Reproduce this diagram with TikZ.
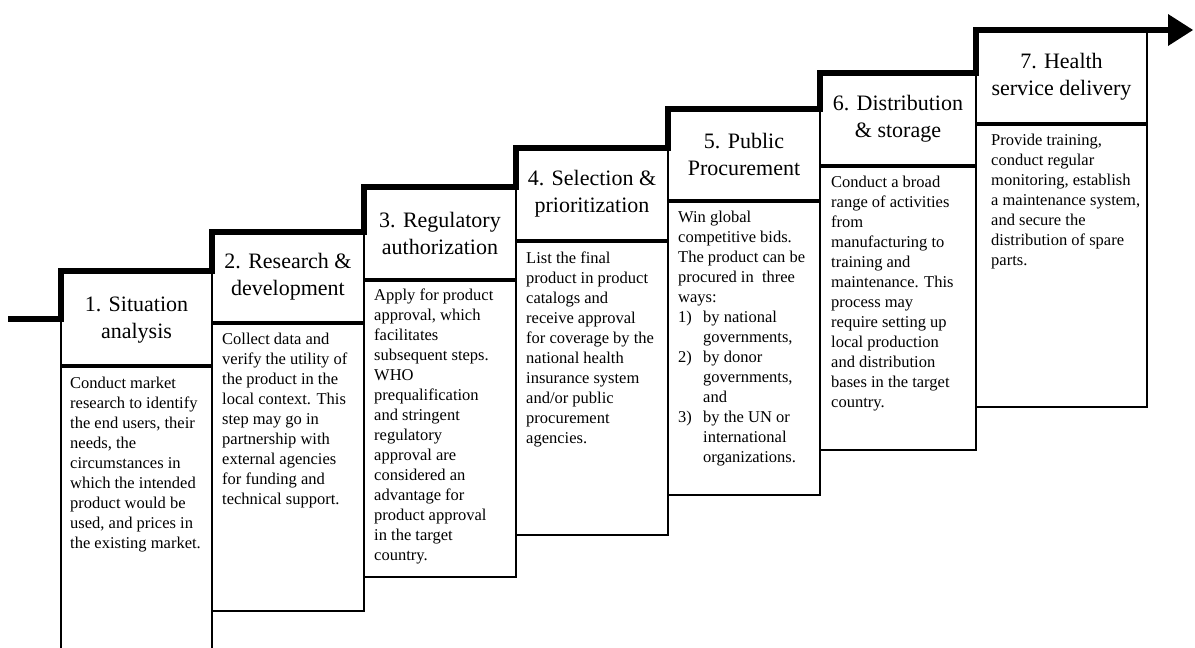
\documentclass[tikz,border=0pt]{standalone}
\usepackage{fontspec}
\setmainfont{Liberation Serif}
\begin{document}
\begin{tikzpicture}[x=1pt,y=-1pt,
  box/.style={draw=black,line width=1.6pt},
  stair/.style={line width=5.5pt,line join=miter},
  headtxt/.style={align=center,inner sep=0pt,font=\fontsize{22}{27}\selectfont},
  bodytxt/.style={align=left,inner sep=0pt,anchor=north west,font=\fontsize{16.5}{20}\selectfont}]
\useasboundingbox (0,0) rectangle (1195,648);
% column boxes: heading and body
\draw[box] (61,271) rectangle (212,365);
\draw[box] (61,648) -- (61,367) -- (212,367) -- (212,648);
\draw[box] (212,232) rectangle (364,322);
\draw[box] (212,324) rectangle (364,611);
\draw[box] (364,187) rectangle (516,279);
\draw[box] (364,281) rectangle (516,577);
\draw[box] (516,148) rectangle (668,240);
\draw[box] (516,242) rectangle (668,535);
\draw[box] (668,109) rectangle (820,200);
\draw[box] (668,202) rectangle (820,495);
\draw[box] (820,73) rectangle (976,165);
\draw[box] (820,167) rectangle (976,450);
\draw[box] (976,30) rectangle (1147,123);
\draw[box] (976,125) rectangle (1147,407);
% stair arrow
\draw[stair] (8,319) -- (61,319) -- (61,271) -- (212,271) -- (212,232) -- (364,232) -- (364,187) -- (516,187) -- (516,148) -- (668,148) -- (668,109) -- (820,109) -- (820,73) -- (976,73) -- (976,30) -- (1170,30);
\fill (1168,14) -- (1193,30) -- (1168,46) -- cycle;
% headings
\node[headtxt] (h1) at (136.5,320) {1. Situation\\analysis};
\node[headtxt] (h2) at (288,277) {2. Research \&\\development};
\node[headtxt] (h3) at (440,233) {3. Regulatory\\authorization};
\node[headtxt] (h4) at (592,194) {4. Selection \&\\prioritization};
\node[headtxt] (h5) at (744,154.5) {5. Public\\Procurement};
\node[headtxt] (h6) at (898,119) {6. Distribution\\\& storage};
\node[headtxt] (h7) at (1061.5,76.5) {7. Health\\service delivery};
% bodies
\node[bodytxt] (b1) at (70,377) {Conduct market\\research to identify\\the end users, their\\needs, the\\circumstances in\\which the intended\\product would be\\used, and prices in\\the existing market.};
\node[bodytxt] (b2) at (222,333) {Collect data and\\verify the utility of\\the product in the\\local context. This\\step may go in\\partnership with\\external agencies\\for funding and\\technical support.};
\node[bodytxt] (b3) at (374,289) {Apply for product\\approval, which\\facilitates\\subsequent steps.\\WHO\\prequalification\\and stringent\\regulatory\\approval are\\considered an\\advantage for\\product approval\\in the target\\country.};
\node[bodytxt] (b4) at (526,252) {List the final\\product in product\\catalogs and\\receive approval\\for coverage by the\\national health\\insurance system\\and/or public\\procurement\\agencies.};
\node[bodytxt] (b5) at (678,211) {Win global\\competitive bids.\\The product can be\\procured in \ three\\ways:\\\makebox[25pt][l]{1)}by national\\\hspace*{25pt}governments,\\\makebox[25pt][l]{2)}by donor\\\hspace*{25pt}governments,\\\hspace*{25pt}and\\\makebox[25pt][l]{3)}by the UN or\\\hspace*{25pt}international\\\hspace*{25pt}organizations.};
\node[bodytxt] (b6) at (831,176) {Conduct a broad\\range of activities\\from\\manufacturing to\\training and\\maintenance. This\\process may\\require setting up\\local production\\and distribution\\bases in the target\\country.};
\node[bodytxt] (b7) at (991,134) {Provide training,\\conduct regular\\monitoring, establish\\a maintenance system,\\and secure the\\distribution of spare\\parts.};
\end{tikzpicture}
\end{document}
